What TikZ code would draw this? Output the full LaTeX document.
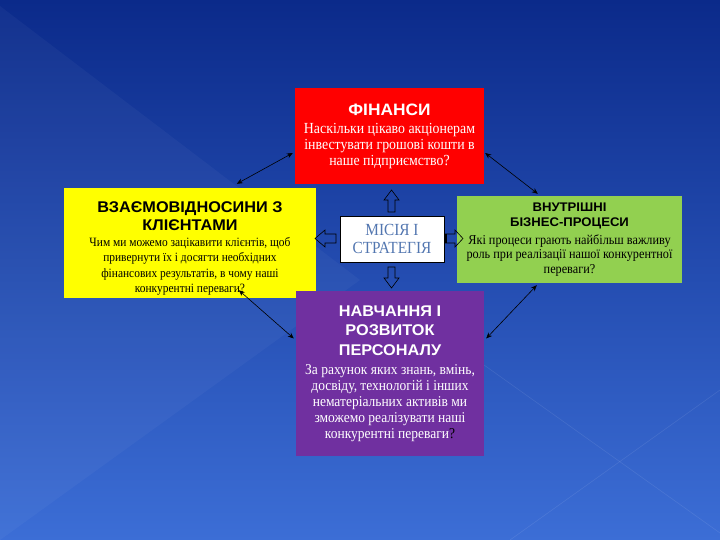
\documentclass[tikz,border=0pt]{standalone}
\usepackage{fontspec}
\setmainfont{Liberation Serif}
\newfontfamily\titlefont[FakeStretch=1.05]{Liberation Sans Bold}
\newfontfamily\bodyfont[FakeStretch=0.9]{Liberation Serif}
\usetikzlibrary{calc,arrows.meta}
\definecolor{bgtop}{RGB}{11,42,138}
\definecolor{bgbot}{RGB}{60,110,214}
\definecolor{finred}{RGB}{255,0,0}
\definecolor{cliyel}{RGB}{255,255,0}
\definecolor{bizgrn}{RGB}{146,208,80}
\definecolor{perpur}{RGB}{112,48,160}
\definecolor{misblue}{RGB}{82,118,176}
\tikzset{
  box/.style={rectangle, inner sep=0pt, align=flush center, anchor=center},
  link/.style={line width=0.6pt, black, {Stealth[length=6pt,width=5pt]}-{Stealth[length=6pt,width=5pt]}},
  hollow/.style={draw=black, line width=0.6pt, line join=miter},
  deco/.style={white, opacity=0.09, line width=0.6pt}
}
\begin{document}
\begin{tikzpicture}[x=1pt,y=-1pt]
\useasboundingbox (0,0) rectangle (720,540);
% background
\shade[top color=bgtop, bottom color=bgbot] (0,0) rectangle (720,540);
\fill[white, opacity=0.035] (0,6) -- (360,280) -- (0,540) -- cycle;
\draw[deco] (484,365) -- (720,533);
\draw[deco] (720,390) -- (510,540);

% boxes
\node[box, fill=finred, minimum width=189pt, minimum height=96pt, text width=187pt,
  font=\bodyfont\fontsize{15.4}{16}\selectfont, text=white] (fin) at (389.5,136)
  {{\titlefont\fontsize{16.5}{18}\selectfont ФІНАНСИ\par}\vspace{2pt}
   Наскільки цікаво акціонерам\\ інвестувати грошові кошти в\\ наше підприємство?};

\node[box, fill=cliyel, minimum width=252pt, minimum height=110pt] (cli) at (190,243) {};
\node[box, text width=248pt,
  font=\bodyfont\fontsize{12.7}{15.5}\selectfont, text=black] (clitext) at (190,248.5)
  {{\titlefont\fontsize{15.5}{18}\selectfont ВЗАЄМОВІДНОСИНИ З\\ КЛІЄНТАМИ\par}
   Чим ми можемо зацікавити клієнтів, щоб\\ привернути їх і досягти необхідних\\
   фінансових результатів, в чому наші\\ конкурентні переваги?};

\node[box, fill=bizgrn, minimum width=225pt, minimum height=87pt, text width=224pt,
  font=\bodyfont\fontsize{13.6}{14.5}\selectfont, text=black] (biz) at (569.5,239.5)
  {{\titlefont\fontsize{12.5}{15}\selectfont ВНУТРІШНІ\\ БІЗНЕС-ПРОЦЕСИ\par}\vspace{3pt}
   Які процеси грають найбільш важливу\\ роль при реалізації нашої конкурентної\\ переваги?};

\node[box, fill=perpur, minimum width=188pt, minimum height=165pt, text width=186pt,
  font=\bodyfont\fontsize{15}{16}\selectfont, text=white] (per) at (390,373.5)
  {{\titlefont\fontsize{15.5}{19.5}\selectfont НАВЧАННЯ І\\ РОЗВИТОК\\ ПЕРСОНАЛУ\par}\vspace{3pt}
   За рахунок яких знань, вмінь,\\ досвіду, технологій і інших\\ нематеріальних активів ми\\
   зможемо реалізувати наші\\ конкурентні переваги{\color{black}?}};

\node[box, fill=white, draw=black, line width=0.5pt, minimum width=104pt, minimum height=46pt,
  font=\bodyfont\fontsize{17}{18}\selectfont, text=misblue] (mis) at (392,239)
  {МІСІЯ І\\ СТРАТЕГІЯ};

% hollow block arrows around the mission
\draw[hollow] (388,212) -- (388,200) -- (384,200) -- (391.5,190) -- (399,200) -- (395,200) -- (395,212) -- cycle;
\draw[hollow] (388,267) -- (388,278) -- (384,278) -- (391.5,288) -- (399,278) -- (395,278) -- (395,267) -- cycle;
\draw[hollow] (336,234) -- (325,234) -- (325,230) -- (315,238.5) -- (325,247) -- (325,243) -- (336,243) -- cycle;
\draw[hollow] (445,234) -- (455,234) -- (455,230) -- (463,238.5) -- (455,247) -- (455,243) -- (445,243) -- cycle;
\fill[black] (444,234) rectangle (447,243);

% connectors
\draw[link] ($(cli.north west)+(173,-4)$) -- ($(fin.west)+(-2,17)$);
\draw[link] ($(fin.east)+(1,17)$) -- ($(biz.north west)+(81,-2)$);
\draw[link] ($(cli.south west)+(175,-8)$) -- ($(per.west)+(-2,-35)$);
\draw[link] ($(biz.south west)+(80,2)$) -- ($(per.east)+(2,-35)$);
\end{tikzpicture}
\end{document}
